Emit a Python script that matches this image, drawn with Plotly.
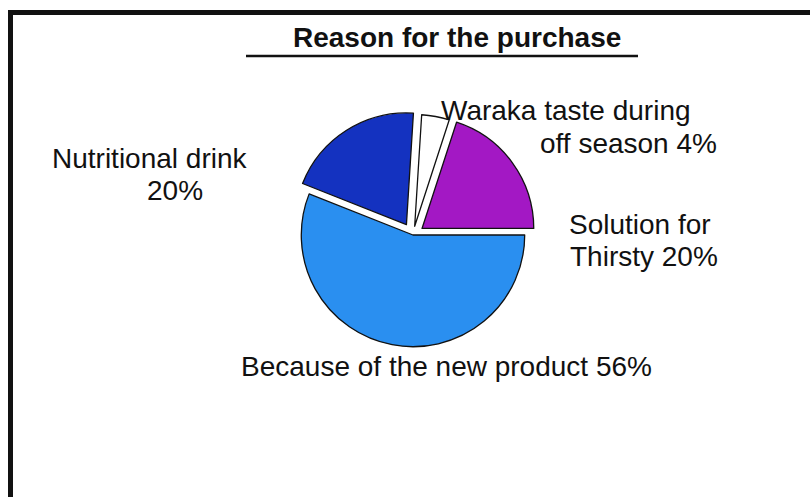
import plotly.graph_objects as go

W, H = 810, 497

# Data
categories = ["Because of the new product", "Nutritional drink", "Waraka taste during off season", "Solution for Thirsty"]
values = [56, 20, 4, 20]
colors = ["#2a8ff0", "#1432c0", "#ffffff", "#a318c4"]
pulls = [0, 0.11, 0.08, 0.1]
title_text = "Reason for the purchase"

def px(x):
    return x / W

def py(y):
    return 1 - y / H

cx, cy, half = 413, 235, 124
fig = go.Figure()
fig.add_trace(go.Pie(
    labels=categories,
    values=values,
    sort=False,
    direction="clockwise",
    rotation=90,
    pull=pulls,
    marker=dict(colors=colors, line=dict(color="#111111", width=1.3)),
    textinfo="none",
    showlegend=False,
    domain=dict(x=[px(cx - half), px(cx + half)], y=[py(cy + half), py(cy - half)]),
))

FONT = "Liberation Sans, Arial, sans-serif"
labels = [
    ("Waraka taste during", 566, 110),
    ("off season 4%", 628, 143),
    ("Nutritional drink", 150, 158),
    ("20%", 175, 190),
    ("Solution for", 640, 224),
    ("Thirsty 20%", 644, 256),
    ("Because of the new product 56%", 447, 366),
]
annotations = []
for t, x, y in labels:
    annotations.append(dict(text=t, x=px(x), y=py(y), xref="paper", yref="paper",
                            xanchor="center", yanchor="middle", showarrow=False,
                            font=dict(family=FONT, size=28, color="#111111")))
annotations.append(dict(text="<b>" + title_text + "</b>", x=px(457), y=py(37), xref="paper", yref="paper",
                        xanchor="center", yanchor="middle", showarrow=False,
                        font=dict(family=FONT, size=28, color="#111111")))

shapes = [
    dict(type="line", xref="paper", yref="paper", x0=px(10.5), x1=px(10.5), y0=0, y1=py(10),
         line=dict(color="#111111", width=5)),
    dict(type="line", xref="paper", yref="paper", x0=px(8), x1=1, y0=py(12.5), y1=py(12.5),
         line=dict(color="#111111", width=5)),
    dict(type="line", xref="paper", yref="paper", x0=px(246), x1=px(638), y0=py(56), y1=py(56),
         line=dict(color="#111111", width=2.5)),
]

fig.update_layout(
    width=W, height=H,
    margin=dict(l=0, r=0, t=0, b=0),
    paper_bgcolor="white", plot_bgcolor="white",
    annotations=annotations,
    shapes=shapes,
)
fig.write_html("out.html")
